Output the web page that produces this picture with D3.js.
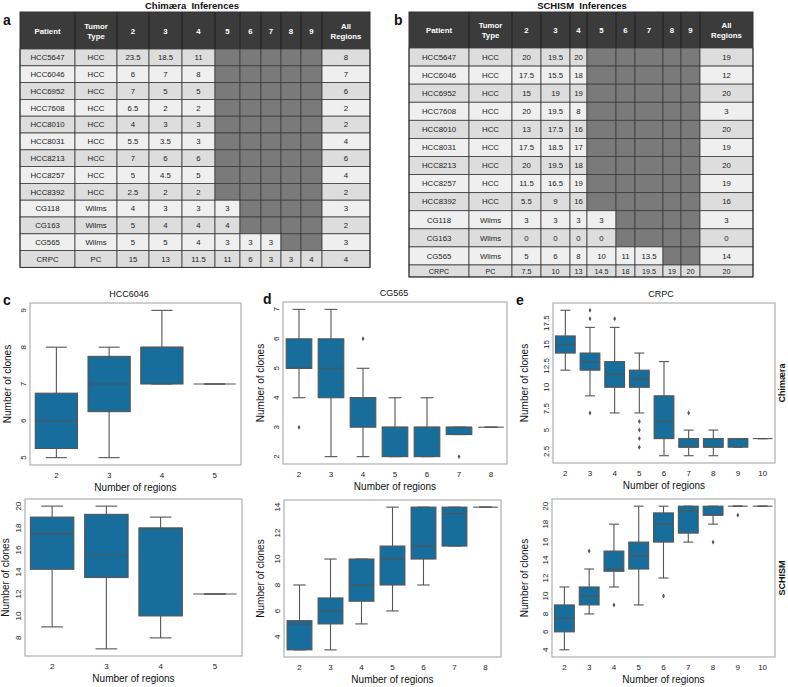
<!DOCTYPE html>
<html><head><meta charset="utf-8">
<script src="https://cdn.jsdelivr.net/npm/d3@7"></script>
<style>
body{margin:0;background:#fff}
svg{display:block}
text{font-family:"Liberation Sans",Arial,Helvetica,sans-serif}
</style>
</head><body>
<svg id="chart" width="788" height="687"></svg>
<script>
// ================= DATA =================
const tableColumns = ["Patient","Tumor Type","2","3","4","5","6","7","8","9","All Regions"];
const patients = ["HCC5647","HCC6046","HCC6952","HCC7608","HCC8010","HCC8031","HCC8213","HCC8257","HCC8392","CG118","CG163","CG565","CRPC"];
const tumorTypes = ["HCC","HCC","HCC","HCC","HCC","HCC","HCC","HCC","HCC","Wilms","Wilms","Wilms","PC"];
const chimaeraByRegions = [
  [23.5,18.5,11,null,null,null,null,null],
  [6,7,8,null,null,null,null,null],
  [7,5,5,null,null,null,null,null],
  [6.5,2,2,null,null,null,null,null],
  [4,3,3,null,null,null,null,null],
  [5.5,3.5,3,null,null,null,null,null],
  [7,6,6,null,null,null,null,null],
  [5,4.5,5,null,null,null,null,null],
  [2.5,2,2,null,null,null,null,null],
  [4,3,3,3,null,null,null,null],
  [5,4,4,4,null,null,null,null],
  [5,5,4,3,3,3,null,null],
  [15,13,11.5,11,6,3,3,4]
];
const chimaeraAll = [8,7,6,2,2,4,6,4,2,3,2,3,4];
const schismByRegions = [
  [20,19.5,20,null,null,null,null,null],
  [17.5,15.5,18,null,null,null,null,null],
  [15,19,19,null,null,null,null,null],
  [20,19.5,8,null,null,null,null,null],
  [13,17.5,16,null,null,null,null,null],
  [17.5,18.5,17,null,null,null,null,null],
  [20,19.5,18,null,null,null,null,null],
  [11.5,16.5,19,null,null,null,null,null],
  [5.5,9,16,null,null,null,null,null],
  [3,3,3,3,null,null,null,null],
  [0,0,0,0,null,null,null,null],
  [5,6,8,10,11,13.5,null,null],
  [7.5,10,13,14.5,18,19.5,19,20]
];
const schismAll = [19,12,20,3,20,19,20,19,16,3,0,14,20];

// Box stats: [lower whisker, Q1, median, Q3, upper whisker]
const hccRegions = [2,3,4,5];
const hccChimaeraStats = [[5,5.25,6,6.75,8],[5,6.25,7,7.75,8],[7,7,8,8,9],[7,7,7,7,7]];
const hccChimaeraOutliers = [[],[],[],[]];
const hccSchismStats = [[9,14.25,17.5,19,20],[7,13.5,15.5,19.25,20],[8,10,18,18,19],[12,12,12,12,12]];
const hccSchismOutliers = [[],[],[],[]];

const cgRegions = [2,3,4,5,6,7,8];
const cgChimaeraStats = [[4,5,5,6,7],[2,4,5,6,7],[2,3,4,4,5],[2,2,3,3,4],[2,2,3,3,4],[2.75,2.75,3,3,3],[3,3,3,3,3]];
const cgChimaeraOutliers = [[3],[],[6],[],[],[2],[]];
const cgSchismStats = [[3,3,5,5.25,8],[3,5,6,7,10],[5,6.75,8,10,10],[6,8,10,11,14],[8,10,11,14,14],[11,11,13.5,14,14],[14,14,14,14,14]];
const cgSchismOutliers = [[],[],[],[],[],[],[]];

const crpcRegions = [2,3,4,5,6,7,8,9,10];
const crpcChimaeraStats = [[12,14,15,16,19],[9,12,13,14,17],[7,10,11.5,13,17],[7,10,11,12,14],[2,4,6,9,13],[2,3,3,4,5],[2,3,3,4,5],[3,3,4,4,4],[4,4,4,4,4]];
const crpcChimaeraOutliers = [[],[19,18,7],[18],[6,5,4,3],[],[7],[],[],[]];
const crpcSchismStats = [[4,6,7.5,9,11],[8,9,10,11,13],[11,12.75,13,15,18],[9,13,14.5,16,20],[12,16,18,19.25,20],[16,17,19.5,20,20],[18,19,19,20,20],[20,20,20,20,20],[20,20,20,20,20]];
const crpcSchismOutliers = [[],[15],[9],[],[10],[],[16],[19],[]];

const hccChimaeraTicks = [5,6,7,8,9];
const hccSchismTicks = [8,10,12,14,16,18,20];
const cgChimaeraTicks = [2,3,4,5,6,7];
const cgSchismTicks = [4,6,8,10,12,14];
const crpcChimaeraTicks = [2.5,5,7.5,10,12.5,15,17.5];
const crpcSchismTicks = [4,6,8,10,12,14,16,18,20];

// ================= DRAW =================
const svg = d3.select("#chart");
svg.append("rect").attr("width",788).attr("height",687).attr("fill","#fff");

const BOX_FILL = "#176d9c", LINE = "#555555", FRAME = "#b0b0b0";

function drawTable(cfg){
  const g = svg.append("g");
  const edges = cfg.edges;
  const x0 = edges[0], x1 = edges[edges.length-1];
  const rowTops = [0].concat(Array.from(d3.cumsum(cfg.rowHeights))).map(v=>v+cfg.headerBottom);
  g.append("text").attr("x",cfg.titleX).attr("y",9).attr("text-anchor","middle")
    .attr("font-size",9.5).attr("font-weight","bold").attr("fill","#111")
    .attr("xml:space","preserve").style("white-space","pre").text(cfg.title);
  g.append("text").attr("x",cfg.labelX).attr("y",25).attr("font-size",14)
    .attr("font-weight","bold").attr("fill","#111").text(cfg.label);
  patients.forEach((p,r)=>{
    const y0=rowTops[r], y1=rowTops[r+1], cy=(y0+y1)/2;
    const fill = r%2===0 ? "#dddddd" : "#efefef";
    const fs = (y1-y0)<14 ? 7.2 : 7.8;
    const cells = [p, tumorTypes[r]].concat(cfg.values[r]).concat([cfg.all[r]]);
    cells.forEach((v,i)=>{
      const isGrey = (v===null);
      g.append("rect").attr("x",edges[i]).attr("y",y0).attr("width",edges[i+1]-edges[i]).attr("height",y1-y0)
        .attr("fill",isGrey?"#7a7a7a":fill).attr("stroke","#3c3c3c").attr("stroke-width",0.8);
      if(!isGrey) g.append("text").attr("x",(edges[i]+edges[i+1])/2).attr("y",cy+fs*0.36)
        .attr("text-anchor","middle").attr("font-size",fs).attr("fill","#222").text(String(v));
    });
  });
  g.append("rect").attr("x",x0).attr("y",cfg.top).attr("width",x1-x0)
    .attr("height",cfg.headerBottom-cfg.top).attr("fill","#3b3b3b");
  tableColumns.forEach((c,i)=>{
    const cx=(edges[i]+edges[i+1])/2, cy=(cfg.top+cfg.headerBottom)/2;
    if(i>0) g.append("line").attr("x1",edges[i]).attr("x2",edges[i]).attr("y1",cfg.top).attr("y2",cfg.headerBottom)
      .attr("stroke","#1e1e1e").attr("stroke-width",1);
    const lines = c.split(" ");
    const t = g.append("text").attr("x",cx).attr("text-anchor","middle").attr("font-size",7.8)
      .attr("font-weight","bold").attr("fill","#fff");
    lines.forEach((l,k)=>{
      t.append("tspan").attr("x",cx).attr("y",cy+3+(k-(lines.length-1)/2)*10).text(l);
    });
  });
  g.append("rect").attr("x",x0).attr("y",cfg.top).attr("width",x1-x0).attr("height",rowTops[rowTops.length-1]-cfg.top)
    .attr("fill","none").attr("stroke","#333").attr("stroke-width",1);
}

drawTable({edges:[20,75,117,149,182,215,240,261,281,301,322,370], top:12, headerBottom:49,
  rowHeights: patients.map(()=>16.8), values: chimaeraByRegions, all: chimaeraAll,
  title:"Chimæra  Inferences", titleX:192, label:"a", labelX:3});
drawTable({edges:[409,469,512,541,570,587,616,635,663,681,700,753], top:12, headerBottom:48,
  rowHeights: patients.map((p,i)=> i<12 ? 18.08 : 12), values: schismByRegions, all: schismAll,
  title:"SCHISM  Inferences", titleX:582, label:"b", labelX:394});

function drawBox(cfg){
  const g = svg.append("g");
  const [fx0,fx1,fy0,fy1] = cfg.frame;
  const allVals = cfg.stats.flat().concat(cfg.outliers.flat());
  const [mn,mx] = d3.extent(allVals);
  const pad = (mx-mn)*0.05;
  const y = d3.scaleLinear().domain([mn-pad,mx+pad]).range([fy1,fy0]);
  const x = d3.scaleBand().domain(cfg.regions).range([fx0,fx1]).padding(0);
  const bw = x.bandwidth();
  const boxW = bw*0.8, capW = boxW*0.5;
  g.append("rect").attr("x",fx0).attr("y",fy0).attr("width",fx1-fx0).attr("height",fy1-fy0)
    .attr("fill","none").attr("stroke",FRAME).attr("stroke-width",1.2);
  cfg.regions.forEach((r,i)=>{
    const [lo,q1,md,q3,hi] = cfg.stats[i];
    const cx = x(r)+bw/2;
    g.append("line").attr("x1",cx).attr("x2",cx).attr("y1",y(q3)).attr("y2",y(hi)).attr("stroke",LINE).attr("stroke-width",1.1);
    g.append("line").attr("x1",cx).attr("x2",cx).attr("y1",y(q1)).attr("y2",y(lo)).attr("stroke",LINE).attr("stroke-width",1.1);
    g.append("line").attr("x1",cx-capW/2).attr("x2",cx+capW/2).attr("y1",y(hi)).attr("y2",y(hi)).attr("stroke",LINE).attr("stroke-width",1.1);
    g.append("line").attr("x1",cx-capW/2).attr("x2",cx+capW/2).attr("y1",y(lo)).attr("y2",y(lo)).attr("stroke",LINE).attr("stroke-width",1.1);
    g.append("rect").attr("x",cx-boxW/2).attr("y",y(q3)).attr("width",boxW).attr("height",Math.max(0,y(q1)-y(q3)))
      .attr("fill",BOX_FILL).attr("stroke",LINE).attr("stroke-width",1.1);
    g.append("line").attr("x1",cx-boxW/2).attr("x2",cx+boxW/2).attr("y1",y(md)).attr("y2",y(md)).attr("stroke",LINE).attr("stroke-width",1.1);
    cfg.outliers[i].forEach(o=>{
      g.append("path").attr("d",d3.symbol().type(d3.symbolDiamond).size(7)())
        .attr("transform",`translate(${cx},${y(o)})`).attr("fill",LINE);
    });
    g.append("text").attr("x",cx).attr("y",fy1+13).attr("text-anchor","middle").attr("font-size",8).attr("fill","#222").text(r);
  });
  cfg.ticks.forEach(t=>{
    const tx = fx0-4, ty=y(t);
    g.append("text").attr("x",tx).attr("y",ty).attr("text-anchor","middle").attr("font-size",8).attr("fill","#222")
      .attr("transform",`rotate(-90,${tx},${ty})`).text(String(t));
  });
  g.append("text").attr("x",(fx0+fx1)/2).attr("y",fy1+26).attr("text-anchor","middle").attr("font-size",10).attr("fill","#111").text("Number of regions");
  const ytx = cfg.yTitleX, yty=(fy0+fy1)/2;
  g.append("text").attr("x",ytx).attr("y",yty).attr("text-anchor","middle").attr("font-size",10).attr("fill","#111")
    .attr("transform",`rotate(-90,${ytx},${yty})`).text("Number of clones");
  if(cfg.title){
    g.append("text").attr("x",cfg.titleX).attr("y",fy0-6).attr("text-anchor","middle").attr("font-size",9).attr("fill","#111").text(cfg.title);
  }
  if(cfg.label){
    g.append("text").attr("x",cfg.labelX).attr("y",fy0+2).attr("font-size",14).attr("font-weight","bold").attr("fill","#111").text(cfg.label);
  }
  if(cfg.side){
    const sx=785, sy=(fy0+fy1)/2;
    g.append("text").attr("x",sx).attr("y",sy).attr("text-anchor","middle").attr("font-size",9).attr("font-weight","bold").attr("fill","#111")
      .attr("transform",`rotate(-90,${sx},${sy})`).text(cfg.side);
  }
}

drawBox({regions:hccRegions, stats:hccChimaeraStats, outliers:hccChimaeraOutliers, ticks:hccChimaeraTicks,
  frame:[30,241,303,465], yTitleX:11, title:"HCC6046", titleX:129, label:"c", labelX:3});
drawBox({regions:hccRegions, stats:hccSchismStats, outliers:hccSchismOutliers, ticks:hccSchismTicks,
  frame:[25,242,499,656], yTitleX:9});
drawBox({regions:cgRegions, stats:cgChimaeraStats, outliers:cgChimaeraOutliers, ticks:cgChimaeraTicks,
  frame:[283,507,302,464], yTitleX:264, title:"CG565", titleX:394, label:"d", labelX:263});
drawBox({regions:cgRegions, stats:cgSchismStats, outliers:cgSchismOutliers, ticks:cgSchismTicks,
  frame:[284,501,500,657], yTitleX:264});
drawBox({regions:crpcRegions, stats:crpcChimaeraStats, outliers:crpcChimaeraOutliers, ticks:crpcChimaeraTicks,
  frame:[553,775,303,463], yTitleX:528, title:"CRPC", titleX:661, label:"e", labelX:516, side:"Chimæra"});
drawBox({regions:crpcRegions, stats:crpcSchismStats, outliers:crpcSchismOutliers, ticks:crpcSchismTicks,
  frame:[552,775,499,657], yTitleX:528, side:"SCHISM"});
</script>
</body></html>
